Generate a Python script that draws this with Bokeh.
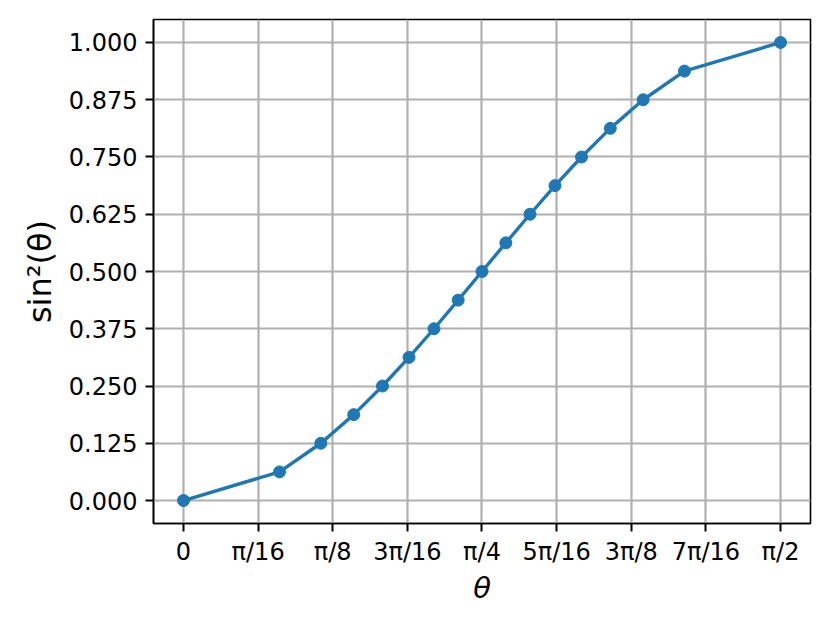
import math
from bokeh.plotting import figure
from bokeh.models import FixedTicker, Range1d
from bokeh.embed import file_html
from bokeh.resources import INLINE

# data
theta = [0.0, 0.2527, 0.3614, 0.4479, 0.5236, 0.5933, 0.6591, 0.7227, 0.7854,
         0.8481, 0.9117, 0.9775, 1.0472, 1.1229, 1.2094, 1.3181, 1.5708]
sin2 = [0.0, 0.0625, 0.125, 0.1875, 0.25, 0.3125, 0.375, 0.4375, 0.5,
        0.5625, 0.625, 0.6875, 0.75, 0.8125, 0.875, 0.9375, 1.0]

x_ticks = [k * math.pi / 16 for k in range(9)]
x_tick_labels = ["0", "π/16", "π/8", "3π/16", "π/4", "5π/16", "3π/8", "7π/16", "π/2"]
y_ticks = [0.0, 0.125, 0.25, 0.375, 0.5, 0.625, 0.75, 0.875, 1.0]
y_tick_labels = ["0.000", "0.125", "0.250", "0.375", "0.500", "0.625", "0.750", "0.875", "1.000"]

FONT = "DejaVu Sans"
BLUE = "#1f77b4"

p = figure(width=814, height=607, output_backend="svg", toolbar_location=None,
           x_range=Range1d(-0.0789, 1.6497), y_range=Range1d(-0.0502, 1.0502),
           min_border_left=153, min_border_right=4, min_border_top=19, min_border_bottom=84)

p.outline_line_color = "black"
p.outline_line_width = 1.6
p.outline_line_alpha = 1.0

for ax in (p.xaxis[0], p.yaxis[0]):
    ax.axis_line_color = "black"
    ax.axis_line_width = 1.6
    ax.major_tick_in = 0
    ax.major_tick_out = 8
    ax.major_tick_line_width = 2
    ax.major_tick_line_color = "black"
    ax.minor_tick_line_color = None
    ax.major_label_text_font = FONT
    ax.major_label_text_font_size = "24px"
    ax.major_label_text_color = "black"
    ax.axis_label_text_font = FONT
    ax.axis_label_text_color = "black"

p.xaxis.ticker = FixedTicker(ticks=x_ticks)
p.yaxis.ticker = FixedTicker(ticks=y_ticks)
p.xaxis.major_label_overrides = {t: l for t, l in zip(x_ticks, x_tick_labels)}
p.yaxis.major_label_overrides = {t: l for t, l in zip(y_ticks, y_tick_labels)}
p.xaxis.major_label_standoff = 6
p.yaxis.major_label_standoff = 8
p.xaxis.axis_label = "θ"
p.xaxis.axis_label_text_font_size = "29px"
p.xaxis.axis_label_text_font_style = "italic"
p.xaxis.axis_label_standoff = 2
p.yaxis.axis_label = "sin²(θ)"
p.yaxis.axis_label_text_font_size = "32px"
p.yaxis.axis_label_text_font_style = "normal"
p.yaxis.axis_label_standoff = 7

for g in (p.xgrid[0], p.ygrid[0]):
    g.grid_line_color = "#b0b0b0"
    g.grid_line_width = 2.2
    g.grid_line_alpha = 1.0
p.xgrid.ticker = FixedTicker(ticks=x_ticks)
p.ygrid.ticker = FixedTicker(ticks=y_ticks)

p.line(theta, sin2, line_color=BLUE, line_width=3.4)
p.scatter(theta, sin2, size=12, fill_color=BLUE, line_color=BLUE)

open("out.html", "w").write(file_html(p, INLINE))
